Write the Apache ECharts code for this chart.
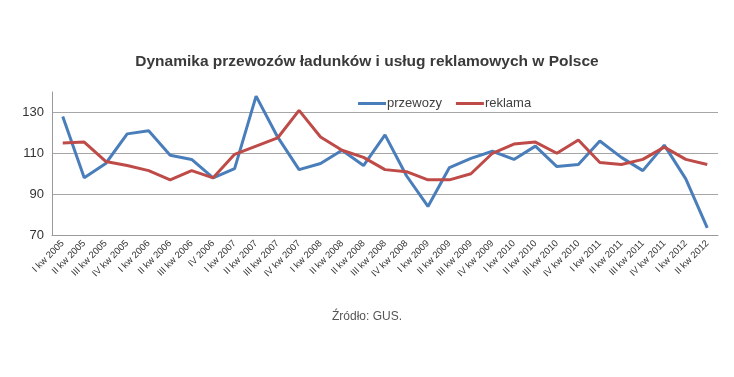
<!DOCTYPE html>
<html>
<head>
<meta charset="utf-8">
<script src="https://cdn.jsdelivr.net/npm/echarts@6/dist/echarts.min.js"></script>
<style>
  html, body { margin: 0; padding: 0; background: #fff; }
  #echart { width: 734px; height: 377px; }
</style>
</head>
<body>
<div id="echart"></div>
<script>
// kwartały (oś X)
var categories = [
  'I kw 2005', 'II kw 2005', 'III kw 2005', 'IV kw 2005',
  'I kw 2006', 'II kw 2006', 'III kw 2006', 'IV 2006',
  'I kw 2007', 'II kw 2007', 'III kw 2007', 'IV kw 2007',
  'I kw 2008', 'II kw 2008', 'II kw 2008', 'III kw 2008', 'IV kw 2008',
  'I kw 2009', 'II kw 2009', 'III kw 2009', 'IV kw 2009',
  'I kw 2010', 'II kw 2010', 'III kw 2010', 'IV kw 2010',
  'I kw 2011', 'II kw 2011', 'III kw 2011', 'IV kw 2011',
  'I kw 2012', 'II kw 2012'
]

var przewozy = [
  128, 98, 105, 119.5, 121, 109, 107, 98, 102.5, 138,
  118, 102, 105, 111.5, 104, 119, 99, 84, 103, 107.5,
  111, 107, 113.5, 103.5, 104.5, 116, 108, 101.5, 114, 97.5,
  73.5
]

var reklama = [
  115, 115.5, 106, 104, 101.5, 97, 101.5, 98, 109.5, 113.5,
  117.5, 131, 118, 111.5, 108, 102, 101, 97, 97, 100,
  110, 114.5, 115.5, 110, 116.5, 105.5, 104.5, 107, 113, 107,
  104.5
]

var yTicks = { min: 70, max: 140, interval: 20 }

var chart = echarts.init(document.getElementById('echart'))

chart.setOption({
  animation: false,
  textStyle: { fontFamily: 'Liberation Sans, Arial, sans-serif' },
  title: [{
    text: 'Dynamika przewozów ładunków i usług reklamowych w Polsce',
    left: 'center',
    top: 49,
    textStyle: {
      fontSize: 15.5,
      fontWeight: 'bold',
      color: '#3a3a3a'
    }
  }, {
    text: 'Źródło: GUS.',
    left: 'center',
    top: 306,
    textStyle: {
      fontSize: 12,
      fontWeight: 'normal',
      color: '#555'
    }
  }],
  legend: {
    data: ['przewozy', 'reklama'],
    left: 353,
    top: 92,
    itemWidth: 28,
    itemHeight: 3,
    itemGap: 14,
    icon: 'rect',
    textStyle: { fontSize: 13, color: '#404040', padding: [0, 0, 0, -4] }
  },
  grid: {
    left: 52,
    right: 16,
    top: 92,
    bottom: 142,
    containLabel: false
  },
  xAxis: {
    type: 'category',
    data: categories,
    boundaryGap: true,
    axisTick: { show: false },
    axisLine: { show: true, lineStyle: { color: '#9a9a9a', width: 1 } },
    axisLabel: {
      interval: 0,
      rotate: 45,
      fontSize: 9.5,
      color: '#333',
      margin: 7
    },
    splitLine: { show: false }
  },
  yAxis: {
    type: 'value',
    min: yTicks.min,
    max: yTicks.max,
    interval: yTicks.interval,
    axisTick: { show: false },
    axisLine: { show: true, lineStyle: { color: '#9a9a9a', width: 1 } },
    axisLabel: {
      fontSize: 13,
      color: '#333',
      margin: 8,
      showMaxLabel: false
    },
    splitLine: {
      show: true,
      showMaxLine: false,
      lineStyle: { color: '#a6a6a6', width: 1 }
    }
  },
  series: [
    {
      name: 'przewozy',
      type: 'line',
      data: przewozy,
      symbol: 'none',
      itemStyle: { color: '#4a7ebb' },
      lineStyle: { color: '#4a7ebb', width: 3 }
    },
    {
      name: 'reklama',
      type: 'line',
      data: reklama,
      symbol: 'none',
      itemStyle: { color: '#be4b48' },
      lineStyle: { color: '#be4b48', width: 3 }
    }
  ]
})
</script>
</body>
</html>
